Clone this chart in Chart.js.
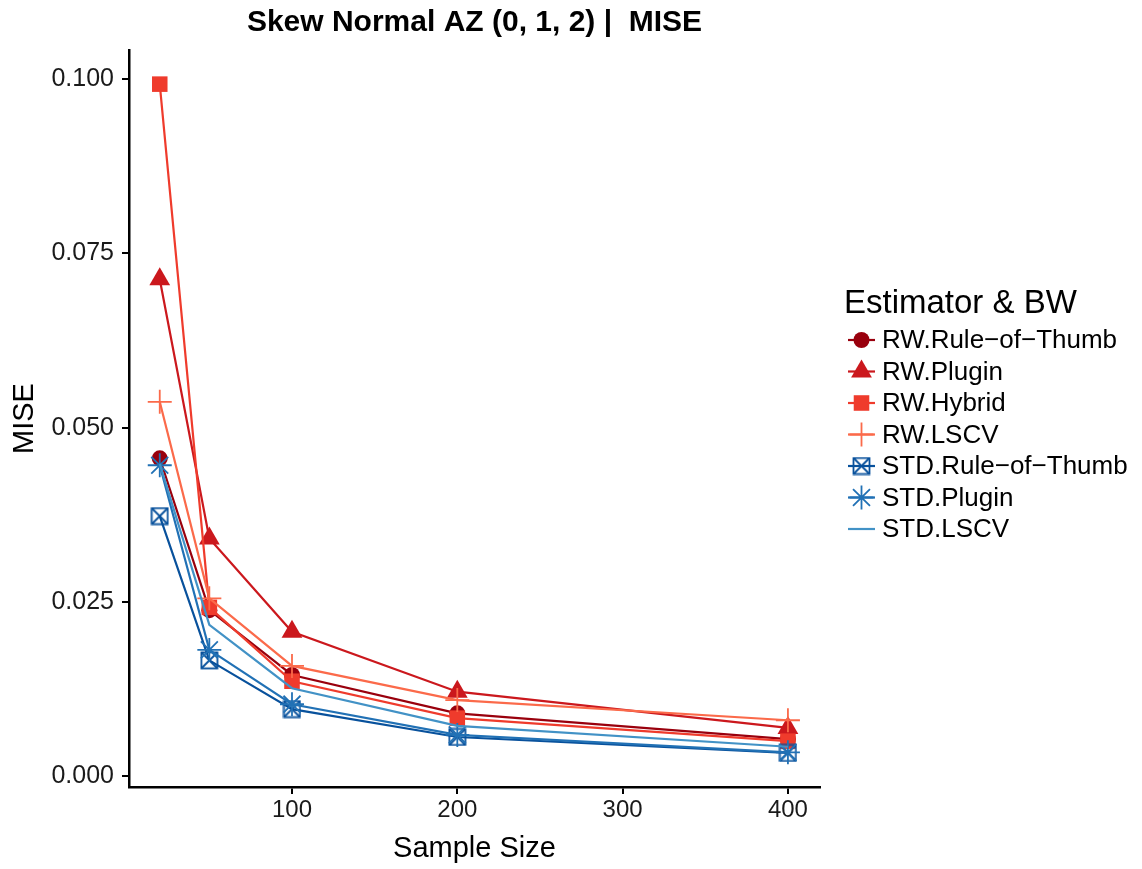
<!DOCTYPE html>
<html>
<head>
<meta charset="utf-8">
<script src="https://cdn.jsdelivr.net/npm/chart.js@4.4.1/dist/chart.umd.min.js"></script>
<style>
  html, body { margin: 0; padding: 0; background: #fff; }
  #wrap { width: 1142px; height: 869px; }
</style>
</head>
<body>
<div id="wrap"><canvas id="chart" width="1142" height="869"></canvas></div>
<script>
// Skew Normal AZ (0, 1, 2) - MISE by sample size
const sampleSizes = [20, 50, 100, 200, 400];
const xTicks = [100, 200, 300, 400];
const yTicks = [0, 0.025, 0.05, 0.075, 0.1];

const seriesNames = ['RW.Rule\u2212of\u2212Thumb', 'RW.Plugin', 'RW.Hybrid', 'RW.LSCV',
                     'STD.Rule\u2212of\u2212Thumb', 'STD.Plugin', 'STD.LSCV'];
const rwRuleOfThumb  = [0.0456, 0.0238, 0.0145, 0.0090, 0.0053];
const rwPlugin       = [0.0713, 0.0341, 0.0207, 0.0121, 0.0069];
const rwHybrid       = [0.0993, 0.0242, 0.0136, 0.0083, 0.0050];
const rwLSCV         = [0.0537, 0.0255, 0.0158, 0.0109, 0.0080];
const stdRuleOfThumb = [0.0373, 0.0166, 0.0096, 0.0056, 0.0033];
const stdPlugin      = [0.0446, 0.0181, 0.0103, 0.0059, 0.0034];
const stdLSCV        = [0.0448, 0.0217, 0.0126, 0.0072, 0.0042];

const colors = ['#99000D', '#CB181D', '#EF3B2C', '#FB6A4A', '#08519C', '#2171B5', '#4292C6'];
const FONT = '"Liberation Sans", Arial, sans-serif';

// square with an X (boxed cross) for STD.Rule-of-Thumb
function boxCross(color) {
    const c = document.createElement('canvas');
    c.width = 19; c.height = 19;
    const g = c.getContext('2d');
    g.strokeStyle = color;
    g.lineWidth = 1.8;
    g.strokeRect(1.5, 1.5, 16, 16);
    g.beginPath();
    g.moveTo(1.5, 1.5); g.lineTo(17.5, 17.5);
    g.moveTo(17.5, 1.5); g.lineTo(1.5, 17.5);
    g.stroke();
    return c;
}

const styles = [
    { pointStyle: 'circle', radius: 8, fill: true },
    { pointStyle: 'triangle', radius: 12, fill: true },
    { pointStyle: 'rect', radius: 11, fill: true },
    { pointStyle: 'cross', radius: 12, fill: false },
    { pointStyle: boxCross(colors[4]), radius: 9, fill: false },
    { pointStyle: 'star', radius: 12, fill: false },
    { pointStyle: false, radius: 0, fill: false }
];

const allSeries = [rwRuleOfThumb, rwPlugin, rwHybrid, rwLSCV, stdRuleOfThumb, stdPlugin, stdLSCV];

const datasets = allSeries.map((vals, i) => ({
    label: seriesNames[i],
    data: vals.map((v, j) => ({ x: sampleSizes[j], y: v })),
    borderColor: colors[i],
    backgroundColor: colors[i],
    borderWidth: 2.2,
    pointStyle: styles[i].pointStyle,
    pointRadius: styles[i].radius,
    pointHoverRadius: styles[i].radius,
    pointBorderWidth: styles[i].fill ? 0 : 1.8,
    pointBackgroundColor: colors[i],
    pointBorderColor: colors[i],
    tension: 0,
    order: 6 - i
}));

// title + legend drawn by hand, ggplot style
const extras = {
    id: 'extras',
    afterDraw(chart) {
        const ctx = chart.ctx;
        const area = chart.chartArea;
        ctx.save();
        ctx.fillStyle = '#000';
        ctx.font = 'bold 30px ' + FONT;
        ctx.textAlign = 'center';
        ctx.textBaseline = 'middle';
        ctx.fillText('Skew Normal AZ (0, 1, 2) |  MISE', (area.left + area.right) / 2, 23);

        ctx.textAlign = 'left';
        ctx.font = '33px ' + FONT;
        ctx.fillText('Estimator & BW', 844, 304);

        ctx.font = '26px ' + FONT;
        seriesNames.forEach((name, i) => {
            const y = 340 + i * 31.5;
            ctx.strokeStyle = colors[i];
            ctx.lineWidth = 2.2;
            ctx.beginPath();
            ctx.moveTo(848, y); ctx.lineTo(875, y);
            ctx.stroke();
            if (styles[i].pointStyle) {
                ctx.fillStyle = colors[i];
                ctx.strokeStyle = colors[i];
                ctx.lineWidth = styles[i].fill ? 0 : 1.8;
                Chart.helpers.drawPoint(ctx, {
                    pointStyle: styles[i].pointStyle,
                    radius: styles[i].radius,
                    rotation: 0,
                    borderWidth: styles[i].fill ? 0 : 1.8
                }, 861.5, y);
            }
            ctx.fillStyle = '#000';
            ctx.fillText(name, 882, y + 1);
        });
        ctx.restore();
    }
};

new Chart(document.getElementById('chart'), {
    type: 'line',
    data: { datasets },
    plugins: [extras],
    options: {
        responsive: false,
        animation: false,
        layout: { padding: { top: 50, right: 322, left: 8, bottom: 0 } },
        plugins: {
            legend: { display: false },
            title: { display: false },
            tooltip: { enabled: false }
        },
        scales: {
            x: {
                type: 'linear',
                min: 1.4,
                max: 419.4,
                afterBuildTicks: s => { s.ticks = xTicks.map(v => ({ value: v })); },
                afterFit: s => { s.height = 82; },
                border: { display: true, color: '#000', width: 2.5 },
                grid: { display: true, drawOnChartArea: false, drawTicks: true, tickLength: 7, color: '#000', lineWidth: 2 },
                ticks: {
                    color: '#1a1a1a',
                    font: { size: 24, family: FONT },
                    padding: 2,
                    maxRotation: 0
                },
                title: {
                    display: true,
                    text: 'Sample Size',
                    color: '#000',
                    font: { size: 29, family: FONT },
                    padding: { top: 0, bottom: 3 }
                }
            },
            y: {
                type: 'linear',
                min: -0.00158,
                max: 0.1042,
                afterBuildTicks: s => { s.ticks = yTicks.map(v => ({ value: v })); },
                afterFit: s => { s.width = 121; },
                border: { display: true, color: '#000', width: 2.5 },
                grid: { display: true, drawOnChartArea: false, drawTicks: true, tickLength: 7, color: '#000', lineWidth: 2 },
                ticks: {
                    color: '#1a1a1a',
                    font: { size: 25, family: FONT },
                    padding: 8,
                    callback: v => v.toFixed(3)
                },
                title: {
                    display: true,
                    text: 'MISE',
                    color: '#000',
                    font: { size: 29, family: FONT },
                    padding: { top: 0, bottom: 4 }
                }
            }
        }
    }
});
</script>
</body>
</html>
